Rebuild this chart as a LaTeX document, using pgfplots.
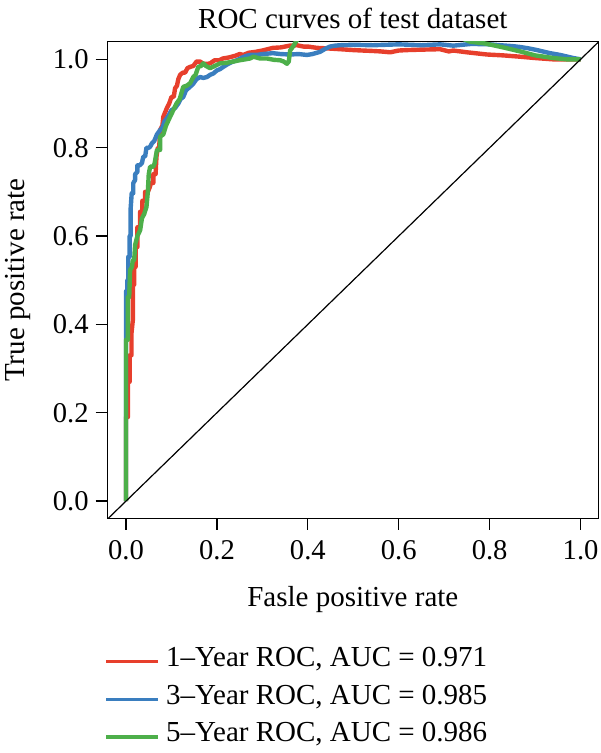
\documentclass[border=0pt]{standalone}
\usepackage{fontspec}
\setmainfont{Liberation Serif}
\usepackage{pgfplots}
\pgfplotsset{compat=1.18}
\definecolor{cred}{HTML}{E73F2C}
\definecolor{cblue}{HTML}{3A7EBF}
\definecolor{cgreen}{HTML}{4DAF4A}
\begin{document}
\begin{tikzpicture}
\begin{axis}[
  scale only axis,
  width=245.5pt, height=238.3pt,
  xmin=-0.0412, xmax=1.039, ymin=-0.039, ymax=1.04,
  xtick={0,0.2,0.4,0.6,0.8,1.0},
  ytick={0,0.2,0.4,0.6,0.8,1.0},
  tick align=outside, major tick length=5.8pt,
  xtick pos=bottom, ytick pos=left,
  tick style={black, line width=0.6pt},
  axis line style={line width=0.7pt},
  /pgf/number format/assume math mode=true,
  /pgf/number format/.cd, fixed, fixed zerofill, precision=1, /pgfplots/.cd,
  ticklabel style={font=\fontsize{14.3}{16}\selectfont},
  xticklabel style={yshift=-2pt},
  title={ROC curves of test dataset},
  every axis title/.style={font=\fontsize{14.5}{17}\selectfont, anchor=base, at={(rel axis cs:0.5,1)}, yshift=6.5pt, inner sep=0pt},
  xlabel={Fasle positive rate},
  ylabel={True positive rate},
  xlabel style={font=\fontsize{14.5}{17}\selectfont, anchor=base, at={(rel axis cs:0.5,0)}, yshift=-44.3pt, inner sep=0pt},
  ylabel style={font=\fontsize{14.5}{17}\selectfont, anchor=center, at={(rel axis cs:-0.181,0.5)}, inner sep=0pt},
  legend cell align=left,
  legend image code/.code={\draw[#1, line width=1.7pt] (0pt,0pt) -- (26pt,0pt);},
  legend style={at={(rel axis cs:0,0)}, anchor=north west, yshift=-66.7pt, xshift=-1.5pt,
    draw=none, fill=none, inner sep=0pt, row sep=9.75pt,
    font=\fontsize{14.5}{17}\selectfont,
    nodes={inner sep=0pt, text height=0.7em, text depth=0.22em},
    /tikz/every odd column/.append style={column sep=3pt}},
]
\addplot[color=cred, line width=2.2pt, line join=round] coordinates {
(0,0) (0,0.19) (0.004,0.19) (0.004,0.27) (0.008,0.27) (0.008,0.33) (0.012,0.33) (0.012,0.38) (0.015,0.41) (0.015,0.49) (0.018,0.49) (0.018,0.53) (0.021,0.53) (0.021,0.575) (0.025,0.575) (0.025,0.62) (0.031,0.62) (0.031,0.655) (0.036,0.655) (0.036,0.68) (0.042,0.68) (0.042,0.70) (0.048,0.70) (0.052,0.71) (0.055,0.72) (0.06,0.72) (0.06,0.74) (0.065,0.74) (0.067,0.78) (0.07,0.80) (0.073,0.80) (0.075,0.84) (0.08,0.85) (0.082,0.87) (0.086,0.88) (0.09,0.89) (0.095,0.90) (0.10,0.915) (0.105,0.915) (0.108,0.935) (0.112,0.94) (0.115,0.955) (0.119,0.965) (0.125,0.97) (0.13,0.97) (0.135,0.98) (0.141,0.983) (0.148,0.985) (0.155,0.995) (0.163,0.995) (0.17,0.99) (0.18,0.99) (0.185,0.991) (0.195,0.998) (0.205,0.998) (0.213,1.002) (0.225,1.004) (0.24,1.008) (0.25,1.012) (0.258,1.01) (0.27,1.015) (0.285,1.017) (0.30,1.02) (0.323,1.026) (0.34,1.027) (0.36,1.031) (0.376,1.032) (0.39,1.029) (0.40,1.029) (0.42,1.026) (0.44,1.025) (0.471,1.023) (0.50,1.021) (0.52,1.02) (0.543,1.019) (0.56,1.018) (0.581,1.016) (0.60,1.02) (0.618,1.021) (0.65,1.022) (0.691,1.023) (0.71,1.018) (0.72,1.02) (0.75,1.016) (0.794,1.011) (0.83,1.009) (0.867,1.006) (0.90,1.003) (0.94,1.0) (0.97,1.0) (1,1)
};
\addlegendentry{1--Year ROC, AUC = 0.971}
\addplot[color=cblue, line width=2.2pt, line join=round] coordinates {
(0,0) (0,0.37) (0,0.475) (0.003,0.475) (0.003,0.50) (0.005,0.50) (0.005,0.553) (0.008,0.553) (0.008,0.60) (0.01,0.60) (0.01,0.66) (0.0125,0.697) (0.016,0.697) (0.016,0.72) (0.02,0.727) (0.02,0.74) (0.025,0.745) (0.025,0.76) (0.03,0.76) (0.035,0.765) (0.038,0.78) (0.042,0.78) (0.045,0.80) (0.05,0.80) (0.053,0.802) (0.057,0.81) (0.062,0.815) (0.068,0.83) (0.075,0.84) (0.08,0.845) (0.085,0.86) (0.092,0.87) (0.1,0.885) (0.108,0.89) (0.115,0.90) (0.12,0.91) (0.126,0.915) (0.132,0.93) (0.141,0.938) (0.148,0.945) (0.155,0.955) (0.163,0.96) (0.17,0.958) (0.178,0.96) (0.185,0.965) (0.192,0.968) (0.2,0.975) (0.207,0.978) (0.214,0.983) (0.225,0.99) (0.235,0.995) (0.244,0.998) (0.255,1.004) (0.265,1.008) (0.273,1.01) (0.288,1.01) (0.30,1.012) (0.323,1.014) (0.34,1.012) (0.361,1.011) (0.38,1.012) (0.398,1.01) (0.41,1.012) (0.427,1.017) (0.44,1.025) (0.449,1.029) (0.46,1.031) (0.471,1.032) (0.50,1.033) (0.543,1.032) (0.60,1.034) (0.65,1.032) (0.691,1.034) (0.72,1.031) (0.76,1.035) (0.80,1.034) (0.823,1.032) (0.85,1.03) (0.867,1.028) (0.885,1.025) (0.904,1.021) (0.933,1.014) (0.955,1.01) (0.984,1.003) (1,1)
};
\addlegendentry{3--Year ROC, AUC = 0.985}
\addplot[color=cgreen, line width=2.2pt, line join=round] coordinates {
(0,0) (0,0.365) (0.004,0.365) (0.004,0.462) (0.007,0.462) (0.009,0.523) (0.013,0.53) (0.015,0.546) (0.018,0.546) (0.02,0.58) (0.025,0.60) (0.031,0.613) (0.035,0.64) (0.04,0.65) (0.045,0.666) (0.048,0.70) (0.05,0.74) (0.053,0.757) (0.06,0.757) (0.063,0.765) (0.068,0.795) (0.075,0.795) (0.075,0.825) (0.082,0.83) (0.088,0.85) (0.097,0.87) (0.104,0.885) (0.111,0.90) (0.118,0.91) (0.126,0.938) (0.133,0.94) (0.141,0.946) (0.148,0.96) (0.153,0.965) (0.159,0.983) (0.165,0.985) (0.17,0.991) (0.176,0.985) (0.185,0.98) (0.195,0.985) (0.207,0.991) (0.22,0.992) (0.236,0.995) (0.25,0.998) (0.262,1.0) (0.273,1.002) (0.28,1.006) (0.295,1.002) (0.31,1.002) (0.325,0.999) (0.339,0.998) (0.347,0.995) (0.354,0.99) (0.358,0.995) (0.361,1.02) (0.368,1.03) (0.372,1.037) (0.38,1.05) (0.45,1.055) (0.6,1.055) (0.72,1.055) (0.757,1.04) (0.79,1.036) (0.83,1.027) (0.867,1.018) (0.90,1.009) (0.94,1.003) (0.97,1.0) (1,1)
};
\addlegendentry{5--Year ROC, AUC = 0.986}
\addplot[black, line width=0.6pt, forget plot] coordinates {(-0.06,-0.06) (1.06,1.06)};
\end{axis}
\pgfresetboundingbox
\path (current axis.south west) ++(-53.65pt,-117.35pt) rectangle ++(300pt,376.5pt);
\end{tikzpicture}
\end{document}
